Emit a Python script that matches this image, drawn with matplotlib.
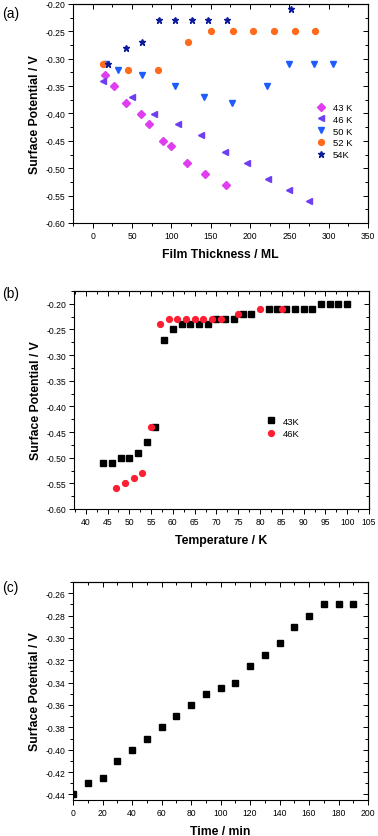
import numpy as np
import matplotlib
matplotlib.use("Agg")
import matplotlib.pyplot as plt
from matplotlib.ticker import MultipleLocator, AutoMinorLocator

plt.rcParams['font.family'] = ['Liberation Sans', 'DejaVu Sans']

# ---- panel (a): surface potential vs film thickness
t43_x = [16, 27, 43, 62, 72, 89, 100, 120, 143, 169]
t43_y = [-0.33, -0.35, -0.38, -0.40, -0.42, -0.45, -0.46, -0.49, -0.51, -0.53]
t46_x = [13, 50, 78, 108, 138, 168, 196, 223, 250, 275]
t46_y = [-0.34, -0.37, -0.40, -0.42, -0.44, -0.47, -0.49, -0.52, -0.54, -0.56]
t50_x = [17, 32, 63, 105, 142, 177, 221, 250, 281, 305]
t50_y = [-0.31, -0.32, -0.33, -0.35, -0.37, -0.38, -0.35, -0.31, -0.31, -0.31]
t52_x = [13, 45, 83, 121, 150, 178, 204, 231, 257, 283]
t52_y = [-0.31, -0.32, -0.32, -0.27, -0.25, -0.25, -0.25, -0.25, -0.25, -0.25]
t54_x = [20, 42, 63, 84, 105, 126, 146, 171, 252]
t54_y = [-0.31, -0.28, -0.27, -0.23, -0.23, -0.23, -0.23, -0.23, -0.21]

# ---- panel (b): surface potential vs temperature
b43_x = [44, 46, 48, 50, 52, 54, 56, 58, 60, 62, 64, 66, 68, 70, 72, 74, 76, 78,
         82, 84, 86, 88, 90, 92, 94, 96, 98, 100]
b43_y = [-0.51, -0.51, -0.50, -0.50, -0.49, -0.47, -0.44, -0.27, -0.25, -0.24, -0.24,
         -0.24, -0.24, -0.23, -0.23, -0.23, -0.22, -0.22, -0.21, -0.21, -0.21, -0.21,
         -0.21, -0.21, -0.20, -0.20, -0.20, -0.20]
b46_x = [47, 49, 51, 53, 55, 57, 59, 61, 63, 65, 67, 69, 71, 75, 80, 85]
b46_y = [-0.56, -0.55, -0.54, -0.53, -0.44, -0.24, -0.23, -0.23, -0.23, -0.23, -0.23,
         -0.23, -0.23, -0.22, -0.21, -0.21]

# ---- panel (c): surface potential vs time
c_x = [0, 10, 20, 30, 40, 50, 60, 70, 80, 90, 100, 110, 120, 130, 140, 150, 160, 170, 180, 190]
c_y = [-0.44, -0.43, -0.425, -0.41, -0.40, -0.39, -0.38, -0.37, -0.36, -0.35, -0.345,
       -0.34, -0.325, -0.315, -0.305, -0.29, -0.28, -0.27, -0.27, -0.27]

W, H = 378, 837
fig = plt.figure(figsize=(W / 100, H / 100), dpi=100)


def box(l, t, r, b):
    return [l / W, 1 - b / H, (r - l) / W, (b - t) / H]


def style(ax):
    for s in ax.spines.values():
        s.set_linewidth(0.8)
    ax.tick_params(which='both', direction='out', labelsize=6.2, width=0.7,
                   pad=2)
    ax.tick_params(which='major', length=3.5)
    ax.tick_params(which='minor', length=2)
    ax.xaxis.set_minor_locator(AutoMinorLocator(2))
    ax.yaxis.set_minor_locator(AutoMinorLocator(2))
    # secondary ticks on top/right pointing inward
    top = ax.secondary_xaxis('top')
    top.set_xticks(ax.get_xticks())
    top.xaxis.set_minor_locator(AutoMinorLocator(2))
    top.tick_params(which='both', direction='in', labeltop=False, width=0.7)
    top.tick_params(which='major', length=3.5)
    top.tick_params(which='minor', length=2)
    right = ax.secondary_yaxis('right')
    right.set_yticks(ax.get_yticks())
    right.yaxis.set_minor_locator(AutoMinorLocator(2))
    right.tick_params(which='both', direction='in', labelright=False, width=0.7)
    right.tick_params(which='major', length=3.5)
    right.tick_params(which='minor', length=2)


lab = dict(fontsize=8.8, fontweight='bold')
ms = 4.2

# (a)
ax = fig.add_axes(box(73, 5, 368, 224))
ax.plot(t43_x, t43_y, 'D', color='#e03cf0', ms=ms - 0.6, ls='none', label='43 K')
ax.plot(t46_x, t46_y, '<', color='#6e3ef0', ms=ms, ls='none', label='46 K')
ax.plot(t50_x, t50_y, 'v', color='#1f5cff', ms=ms, ls='none', label='50 K')
ax.plot(t52_x, t52_y, 'o', color='#ff6a1c', ms=ms, ls='none', label='52 K')
ax.plot(t54_x, t54_y, '*', color='#0a1a9a', ms=ms + 0.6, ls='none', label='54K')
ax.set_xlim(-25, 350)
ax.set_ylim(-0.60, -0.20)
ax.set_xticks(np.arange(0, 351, 50))
ax.set_yticks(np.arange(-0.60, -0.199, 0.05))
ax.yaxis.set_major_formatter(matplotlib.ticker.FormatStrFormatter('%.2f'))
ax.set_xlabel('Film Thickness / ML', labelpad=6, **lab)
ax.set_ylabel('Surface Potential / V', labelpad=3, **lab)
ax.legend(loc='center right', bbox_to_anchor=(0.975, 0.42), frameon=False,
          fontsize=6.8, handletextpad=0.6, labelspacing=0.3, handlelength=1.2)
style(ax)

# (b)
ax = fig.add_axes(box(74, 292, 369, 510))
ax.plot(b43_x, b43_y, 's', color='black', ms=ms, ls='none', label='43K')
ax.plot(b46_x, b46_y, 'o', color='#ff1f33', ms=ms, ls='none', label='46K')
ax.set_xlim(37.3, 104.5)
ax.set_ylim(-0.60, -0.175)
ax.set_xticks(np.arange(40, 106, 5))
ax.set_yticks(np.arange(-0.60, -0.199, 0.05))
ax.yaxis.set_major_formatter(matplotlib.ticker.FormatStrFormatter('%.2f'))
ax.set_xlabel('Temperature / K', labelpad=6, **lab)
ax.set_ylabel('Surface Potential / V', labelpad=3, **lab)
ax.legend(loc='center left', bbox_to_anchor=(0.62, 0.375), frameon=False,
          fontsize=6.8, handletextpad=0.6, labelspacing=0.35, handlelength=1.2)
style(ax)

# (c)
ax = fig.add_axes(box(73, 583, 368, 801))
ax.plot(c_x, c_y, 's', color='black', ms=ms, ls='none')
ax.set_xlim(0, 200)
ax.set_ylim(-0.445, -0.25)
ax.set_xticks(np.arange(0, 201, 20))
ax.set_yticks(np.arange(-0.44, -0.259, 0.02))
ax.yaxis.set_major_formatter(matplotlib.ticker.FormatStrFormatter('%.2f'))
ax.set_xlabel('Time / min', labelpad=6, **lab)
ax.set_ylabel('Surface Potential / V', labelpad=3, **lab)
style(ax)

for txt, y in [('(a)', 14), ('(b)', 294), ('(c)', 588)]:
    fig.text(2 / W, 1 - y / H, txt, fontsize=10, va='center', ha='left')

fig.savefig('out.png', dpi=100)
